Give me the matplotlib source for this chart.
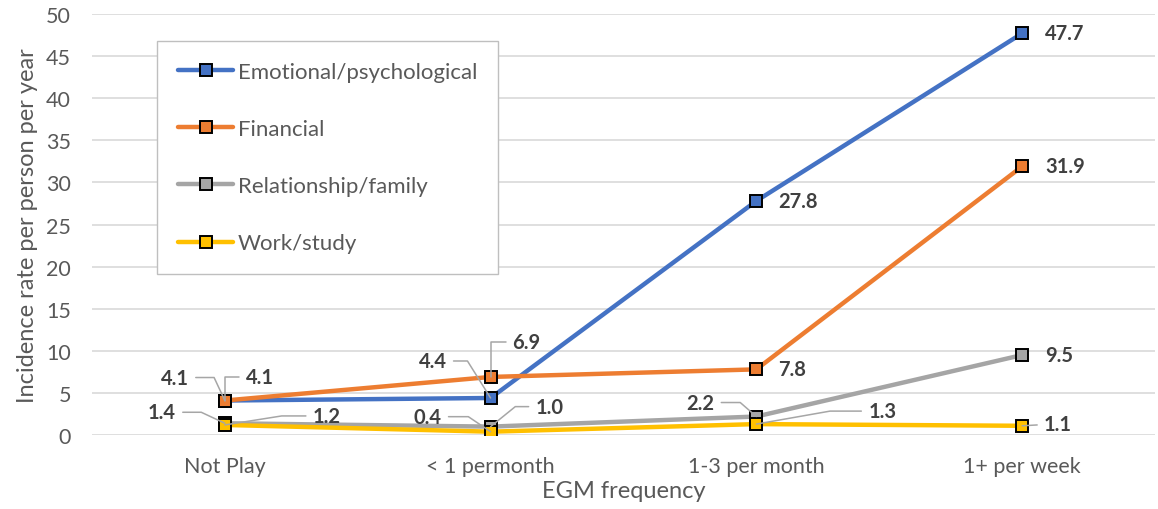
import numpy as np
import matplotlib.pyplot as plt

plt.rcParams['font.family'] = ['Lato', 'DejaVu Sans']

# chart data
categories = ['Not Play', '< 1 permonth', '1-3 per month', '1+ per week']
series_names = ['Emotional/psychological', 'Financial', 'Relationship/family', 'Work/study']
emotional = [4.1, 4.4, 27.8, 47.7]
financial = [4.1, 6.9, 7.8, 31.9]
relationship = [1.4, 1.0, 2.2, 9.5]
work = [1.2, 0.4, 1.3, 1.1]
y_ticks = [0, 5, 10, 15, 20, 25, 30, 35, 40, 45, 50]

colors = ['#4472C4', '#ED7D31', '#A5A5A5', '#FFC000']

# label placement per point: (dx, dy in pixels, ha, leader angle or None)
label_style = [
    [(-50, 23, 'center', 115), (-58, 37, 'center', 122), (22, 0, 'left', None), (23, 0, 'left', None)],
    [(35, 24, 'center', 90), (36, 35, 'center', 90), (22, 0, 'left', None), (23, 0, 'left', None)],
    [(-63, 11, 'center', 155), (59, 20, 'center', 39), (-56, 14, 'center', 139), (23, 0, 'left', None)],
    [(102, 9, 'center', 9), (-63, 15, 'center', 146), (126, 13, 'center', 10), (36, 2, 'center', 0)],
]

fig = plt.figure(figsize=(11.58, 5.10), dpi=100)
ax = fig.add_axes([0.0794, 0.145, 0.918, 0.8256])

x = np.arange(len(categories))
all_series = [emotional, financial, relationship, work]

for name, vals, col in zip(series_names, all_series, colors):
    ax.plot(x, vals, color=col, lw=3.2, marker='s', markersize=9,
            markerfacecolor=col, markeredgecolor='black', markeredgewidth=1.4,
            label=name, solid_capstyle='round', zorder=3)

for vals, styles in zip(all_series, label_style):
    for xi, v, (dx, dy, ha, ang) in zip(x, vals, styles):
        kw = {}
        if ang is not None:
            if ang == 0:
                cs = 'arc3'
            else:
                cs = 'angle,angleA=0,angleB=%d,rad=0' % ang
            kw['arrowprops'] = dict(arrowstyle='-', color='#A6A6A6', lw=1.1,
                                    shrinkA=3, shrinkB=0, connectionstyle=cs)
        ax.annotate('%.1f' % v, xy=(xi, v), xytext=(dx, dy), textcoords='offset pixels',
                    ha=ha, va='center', fontsize=14.5, fontweight='bold', color='#404040',
                    zorder=5, **kw)

ax.set_xlim(-0.5, 3.5)
ax.set_ylim(0, 50)
ax.set_yticks(y_ticks)
ax.set_xticks(x)
ax.set_xticklabels(categories)
ax.tick_params(axis='x', length=0, labelsize=15.5, colors='#595959', pad=15)
ax.tick_params(axis='y', length=0, labelsize=15.5, colors='#595959', pad=15)
ax.grid(axis='y', color='#D9D9D9', lw=1.2)
ax.set_axisbelow(True)
for s in ax.spines.values():
    s.set_visible(False)

ax.set_xlabel('EGM frequency', fontsize=17, color='#595959', labelpad=3)
ax.set_ylabel('Incidence rate per person per year', fontsize=17, color='#595959', labelpad=6)

leg = ax.legend(loc='upper left', bbox_to_anchor=(0.061, 0.936), fontsize=16,
                labelspacing=1.67, handlelength=2.5, handletextpad=0.2,
                borderpad=0.95, fancybox=False, framealpha=1, edgecolor='#BFBFBF',
                borderaxespad=0)
for t in leg.get_texts():
    t.set_color('#595959')

fig.savefig('out.png', dpi=100)
